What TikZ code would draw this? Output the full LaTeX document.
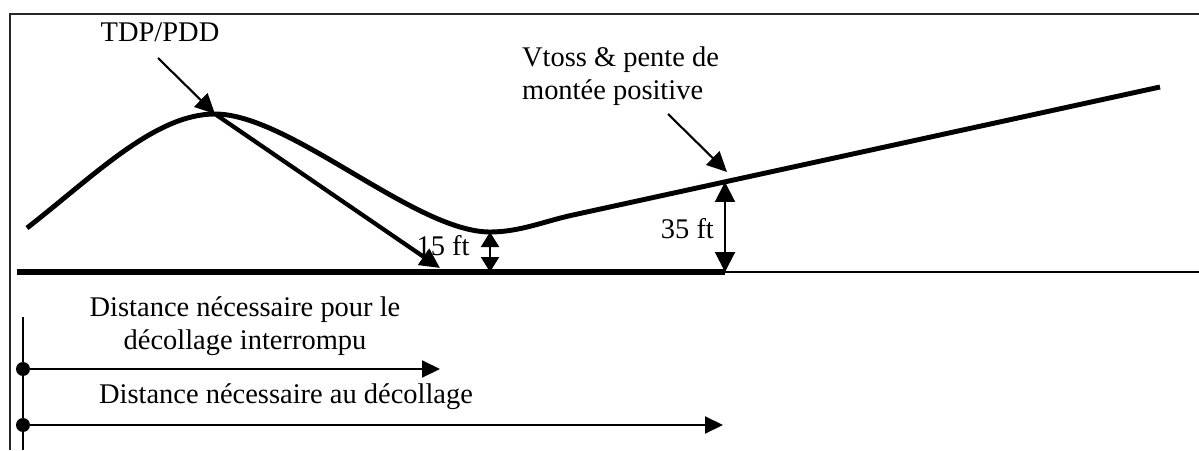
\documentclass[tikz,border=0pt]{standalone}
\usepackage{fontspec}
\setmainfont{Liberation Serif}
\usetikzlibrary{arrows.meta,positioning}
\tikzset{
  lbl/.style={font=\fontsize{16.2}{18.5}\selectfont,align=center,inner sep=1pt},
  flight/.style={line width=2.8pt},
  ptr/.style={-{Triangle[length=4mm,width=3.8mm]},line width=1.2pt},
  dim/.style={{Triangle[length=4mm,width=4mm]}-{Triangle[length=4mm,width=4mm]},line width=1.2pt},
  dimshort/.style={{Triangle[length=3mm,width=3.6mm]}-{Triangle[length=3mm,width=3.6mm]},line width=1.2pt},
  dist/.style={-{Triangle[length=3.6mm,width=3.4mm]},line width=1.2pt},
}

\begin{document}
\begin{tikzpicture}[x=1cm,y=1cm]
  \useasboundingbox (0,0) rectangle (23.98,9.0);
  % frame
  \coordinate (fbot) at (0.2,0);
  \coordinate (ftl) at (0.2,8.72);
  \coordinate (ftr) at (23.98,8.72);
  \draw[line width=1.2pt,black!85] (fbot) -- (ftl) -- (ftr);
  % runway
  \coordinate (rwy0) at (0.34,3.56);
  \coordinate (rwyend) at (14.5,3.56);
  \coordinate (rwyfar) at (23.98,3.56);
  \draw[line width=3.6pt] (rwy0) -- (rwyend);
  \draw[line width=1.2pt] (rwyend) -- (rwyfar);
  % flight path
  \coordinate (start) at (0.54,4.44);
  \coordinate (tdp) at (4.3,6.72);
  \coordinate (low) at (9.8,4.36);
  \coordinate (blend) at (11.46,4.70);
  \coordinate (vtoss) at (14.5,5.36);
  \coordinate (climb) at (23.2,7.26);
  \draw[flight] (start) .. controls (1.9,5.5) and (3.1,6.72) .. (tdp)
     .. controls (5.8,6.72) and (8.3,4.36) .. (low)
     .. controls (10.4,4.36) and (10.9,4.58) .. (blend) -- (climb);
  % rejected take-off
  \coordinate (stop) at (8.8,3.64);
  \draw[line width=2.4pt,-{Triangle[length=4mm,width=3.8mm]}] (tdp) -- (stop);
  % labels and pointers
  \node[lbl] (tdplbl) at (3.2,8.36) {TDP/PDD};
  \coordinate (tdptail) at (3.16,7.84);
  \draw[ptr] (tdptail) -- (tdp);
  \node[lbl,align=left,anchor=west] (vtosslbl) at (10.4,7.48) {Vtoss \& pente de\\montée positive};
  \coordinate (vtosstail) at (13.36,6.72);
  \coordinate (vtosstip) at (14.54,5.56);
  \draw[ptr] (vtosstail) -- (vtosstip);
  % heights
  \draw[dimshort] (low) -- (low |- rwy0);
  \node[lbl] (ft15) at (8.86,4.08) {15 ft};
  \draw[dim] (vtoss) -- (rwyend);
  \node[lbl,anchor=east] (ft35) at (14.32,4.42) {35 ft};
  % distances
  \coordinate (axtop) at (0.46,2.66);
  \coordinate (axbot) at (0.46,0);
  \draw[line width=1.6pt] (axtop) -- (axbot);
  \coordinate (o1) at (0.46,1.62);
  \coordinate (o2) at (0.46,0.5);
  \coordinate (asd) at (8.8,1.62);
  \coordinate (tod) at (14.46,0.5);
  \fill (o1) circle (0.14);
  \fill (o2) circle (0.14);
  \draw[dist] (o1) -- (asd);
  \draw[dist] (o2) -- (tod);
  \node[lbl] (asdlbl) at (4.9,2.48) {Distance nécessaire pour le\\décollage interrompu};
  \node[lbl] (todlbl) at (5.72,1.06) {Distance nécessaire au décollage};
\end{tikzpicture}
\end{document}
